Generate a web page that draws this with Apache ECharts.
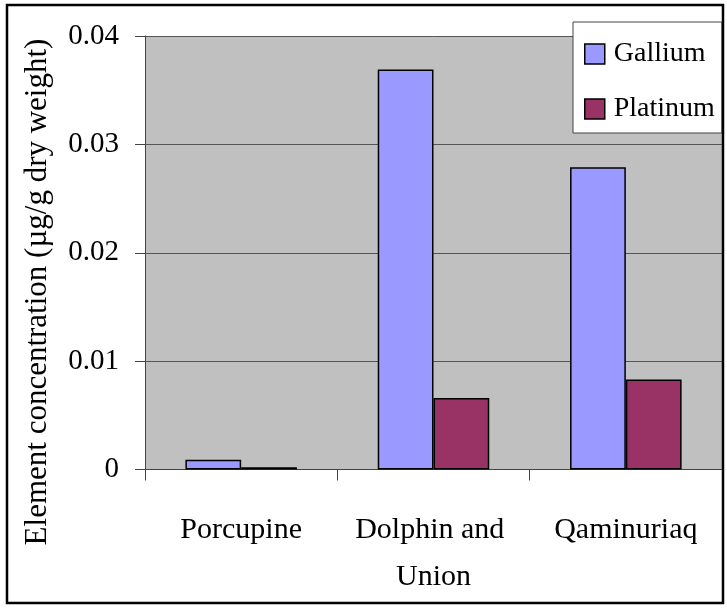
<!DOCTYPE html>
<html>
<head>
<meta charset="utf-8">
<script src="https://cdn.jsdelivr.net/npm/echarts@6/dist/echarts.min.js"></script>
<style>
  html,body{margin:0;padding:0;background:#fff;}
  #chart{width:727px;height:609px;}
</style>
</head>
<body>
<div id="chart"></div>
<script>
var categories = ["Porcupine", "Dolphin and Union", "Qaminuriaq"];
var gallium = [0.0009, 0.0369, 0.0279];
var platinum = [0.0002, 0.0066, 0.0083];
var yTicks = {min: 0, max: 0.04, step: 0.01};

var serif = "Liberation Serif";

var chart = echarts.init(document.getElementById("chart"));

var option = {
    animation: false,
    backgroundColor: "#fff",
    textStyle: {fontFamily: serif},
    grid: {left: 145, top: 36, width: 577, height: 433.5, show: true,
        backgroundColor: "#c0c0c0", borderWidth: 0},
    legend: {
        orient: "vertical",
        left: 573, top: 22,
        padding: [18, 7, 10, 11],
        itemWidth: 20, itemHeight: 20, itemGap: 27,
        backgroundColor: "#fff", borderColor: "#444", borderWidth: 1,
        icon: "rect",
        itemStyle: {borderColor: "#000", borderWidth: 1.5},
        textStyle: {fontFamily: serif, fontSize: 28, color: "#000", padding: [0, 0, 0, 4]},
        data: ["Gallium", "Platinum"]
    },
    xAxis: {
        type: "category",
        data: categories,
        axisLine: {lineStyle: {color: "#444", width: 1}},
        axisTick: {show: true, length: 11, interval: 0, lineStyle: {color: "#444"}},
        axisLabel: {fontFamily: serif, fontSize: 30, color: "#000", margin: 37, interval: 0,
            lineHeight: 47, width: 175, overflow: "break"}
    },
    yAxis: {
        type: "value",
        min: yTicks.min, max: yTicks.max, interval: yTicks.step,
        axisLine: {show: true, lineStyle: {color: "#444", width: 1}},
        axisTick: {show: true, length: 10, lineStyle: {color: "#444"}},
        splitLine: {lineStyle: {color: "#555", width: 1}},
        axisLabel: {fontFamily: serif, fontSize: 29, color: "#000", margin: 26}
    },
    series: [
        {name: "Gallium", type: "bar", data: gallium, barGap: "0%", barCategoryGap: "42%",
            itemStyle: {color: "#9999ff", borderColor: "#000", borderWidth: 1.5}},
        {name: "Platinum", type: "bar", data: platinum,
            itemStyle: {color: "#993366", borderColor: "#000", borderWidth: 1.5}}
    ],
    graphic: [
        {type: "rect", shape: {x: 7, y: 5, width: 716, height: 598},
            style: {fill: "none", stroke: "#000", lineWidth: 2.5}, z: 100},
        // y axis title, drawn by hand so it can sit off-centre like the original
        {type: "text", x: 38, y: 292, rotation: Math.PI / 2,
            style: {text: "Element concentration (\u00b5g/g dry weight)",
                fontFamily: serif, fontSize: 31,
                fill: "#000", align: "center", verticalAlign: "middle"}}
    ]
};

chart.setOption(option);
</script>
</body>
</html>
